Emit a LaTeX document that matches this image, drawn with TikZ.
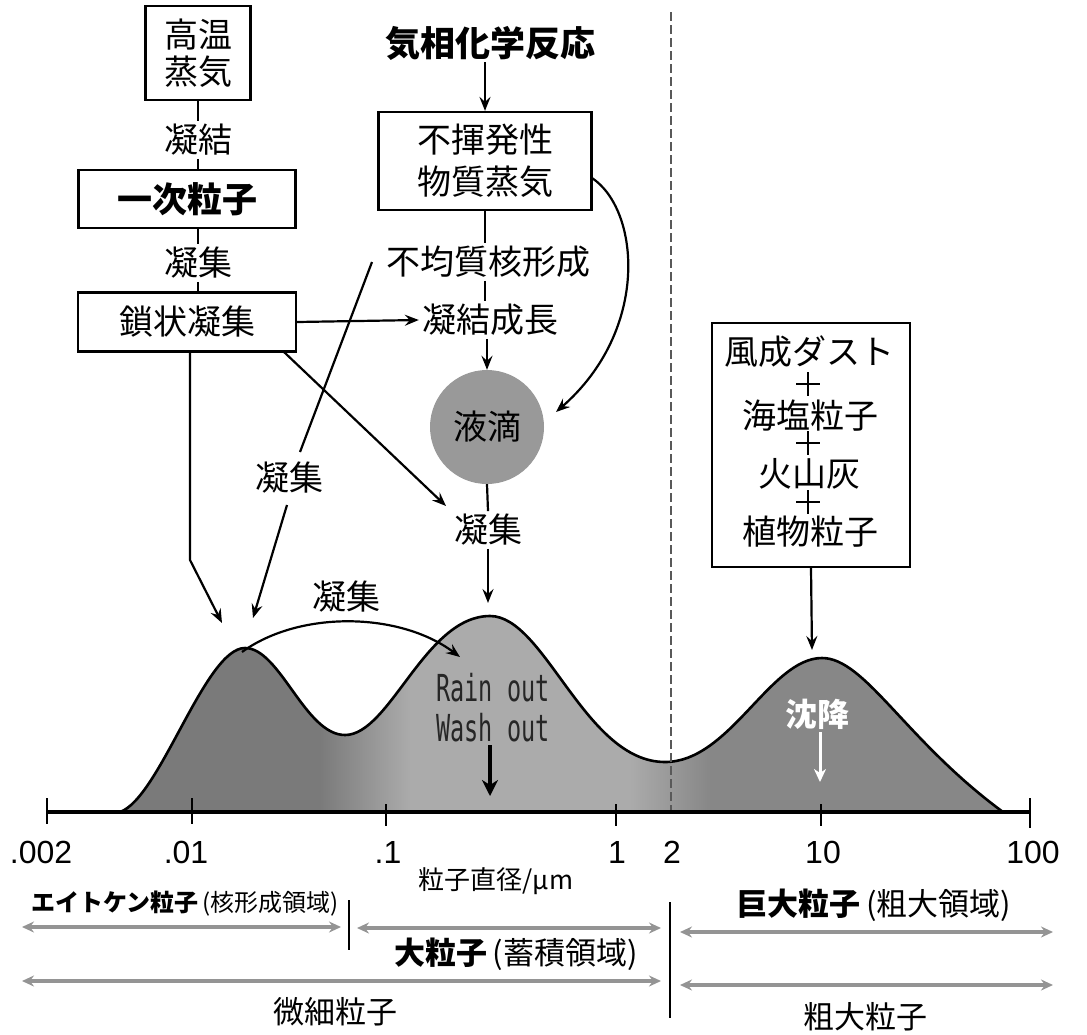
\documentclass[tikz,border=0pt]{standalone}
\usepackage{fontspec}
\setmainfont{Noto Sans CJK JP}
\newfontfamily\monof{DejaVu Sans Mono}
\newfontfamily\numf{Liberation Sans}
\usetikzlibrary{arrows.meta}
\tikzset{
  jp/.style={font=\fontsize{34}{38}\selectfont, inner sep=3pt},
  jpb/.style={font=\bfseries\fontsize{35}{38}\selectfont, inner sep=3pt},
  boxn/.style={draw, line width=2.2pt, align=center, inner sep=0pt},
  conn/.style={draw, line width=2.2pt},
  arr/.style={draw, line width=2.2pt, -{Stealth[length=14pt,width=11pt,inset=5pt]}},
  garr/.style={draw=black!42, line width=3.6pt, {Stealth[length=12pt,width=11pt,inset=4pt]}-{Stealth[length=12pt,width=11pt,inset=4pt]}},
  tick/.style={line width=2.6pt},
  num/.style={font=\numf\fontsize{32}{34}\selectfont, inner sep=0pt},
  lab/.style={font=\fontsize{29}{32}\selectfont, inner sep=0pt},
  plusmark/.style={line width=1.8pt},
  wtxt/.style={font=\fontsize{34}{38}\selectfont, inner sep=0pt},
}
\def\distcurve{(120,812) .. controls (160,798) and (205,648) .. (245,648)
  .. controls (280,648) and (305,735) .. (345,735)
  .. controls (390,735) and (425,616) .. (490,616)
  .. controls (545,616) and (585,762) .. (665,762)
  .. controls (730,762) and (770,658) .. (822,658)
  .. controls (865,658) and (905,740) .. (1003,812)}
\begin{document}
\begin{tikzpicture}[x=1pt,y=-1pt]
\useasboundingbox (0,0) rectangle (1087,1034);

% ---------- distribution curve ----------
\begin{scope}
  \clip \distcurve -- cycle;
  \fill[black!52] (100,590) rectangle (320,815);
  \shade[left color=black!52, right color=black!33] (320,590) rectangle (410,815);
  \fill[black!33] (410,590) rectangle (630,815);
  \shade[left color=black!33, right color=black!47] (630,590) rectangle (710,815);
  \fill[black!47] (710,590) rectangle (1010,815);
\end{scope}
\draw[line width=2.6pt] \distcurve;

% dashed divider
\draw[black!65, line width=1.4pt, dash pattern=on 9pt off 4pt] (671,12) -- (671,812);

% ---------- axis ----------
\draw[line width=3.2pt] (47,812) -- (1030,812);
\draw[tick] (47,798) -- (47,824);
\draw[tick] (192,798) -- (192,824);
\draw[tick] (386,804) -- (386,826);
\draw[tick] (616,804) -- (616,826);
\draw[tick] (821,804) -- (821,826);
\draw[tick] (1030,798) -- (1030,828);
\node[num] (n1) at (41,852) {.002};
\node[num] (n2) at (186,852) {.01};
\node[num] (n3) at (388,852) {.1};
\node[num] (n4) at (617,852) {1};
\node[num] (n5) at (672,852) {2};
\node[num] (n6) at (823,852) {10};
\node[num] (n7) at (1033,852) {100};
\node[font=\fontsize{26}{28}\selectfont, inner sep=0pt] (axl) at (496,881) {粒子直径/μm};

% ---------- left column ----------
\node[boxn, jp, minimum width=105pt, minimum height=94pt, font=\fontsize{34}{37}\selectfont] (hv) at (198,53) {高温\\蒸気};
\node[jp] (l1) at (198,140) {凝結};
\node[boxn, jpb, minimum width=217pt, minimum height=58pt] (p1) at (187,199) {一次粒子};
\node[jp] (l2) at (198,263) {凝集};
\node[boxn, jp, minimum width=218pt, minimum height=59pt] (ch) at (187,322) {鎖状凝集};
\draw[conn] (hv.south) -- (l1.north);
\draw[conn] (l1.south) -- (l1.south |- p1.north);
\draw[conn] (p1.south -| l2.north) -- (l2.north);
\draw[conn] (l2.south) -- (l2.south |- ch.north);

% ---------- middle column ----------
\node[jpb] (gas) at (490,43) {気相化学反応};
\node[boxn, jp, minimum width=213pt, minimum height=98pt, font=\fontsize{34}{42}\selectfont] (nv) at (485,161) {不揮発性\\物質蒸気};
\node[jp] (het) at (488,262) {不均質核形成};
\node[jp] (cg) at (490,320) {凝結成長};
\node[circle, fill=black!40, minimum size=114pt, inner sep=0pt, jp] (drop) at (487,427) {液滴};
\node[jp] (ag) at (488,530) {凝集};
\coordinate (gs) at (485,62);
\draw[arr] (gs) -- (nv.north);
\draw[conn] (nv.south) -- (nv.south |- het.north);
\draw[conn] (het.south -| nv.south) -- (nv.south |- cg.north);
\draw[arr] (cg.south -| drop.north) -- (drop.north);
\draw[conn] (drop.south) -- (ag.north);
\coordinate (pk2) at (488,603);
\draw[arr] (ag.south) -- (pk2);

% curved arrow from vapour box to droplet
\coordinate (nvs) at (592,178);
\coordinate (dre) at (556,412);
\draw[arr] (nvs) .. controls (640,210) and (650,330) .. (dre);

% chain-aggregate connections
\draw[arr] (ch.east) -- (cg.west);
\coordinate (chs) at (190,352);
\coordinate (k1) at (190,560);
\coordinate (t1) at (222,623);
\draw[arr] (chs) -- (k1) -- (t1);
\coordinate (chse) at (284,352);
\coordinate (t3) at (446,506);
\draw[arr] (chse) -- (t3);

% heterogeneous nucleation -> Aitken peak
\node[jp] (l3) at (289,478) {凝集};
\coordinate (hw) at (372,262);
\coordinate (hm) at (300,452);
\coordinate (hn) at (287,505);
\coordinate (t4) at (253,618);
\draw[conn] (hw) -- (hm);
\draw[arr] (hn) -- (t4);

% coagulation between peaks
\node[jp] (l4) at (346,597) {凝集};
\coordinate (a1) at (242,652);
\coordinate (a2) at (460,657);
\draw[arr] (a1) .. controls (300,610) and (400,612) .. (a2);

% ---------- right box ----------
\node[boxn, minimum width=198pt, minimum height=244pt] (wb) at (811,445) {};
\node[wtxt] (w1) at (809,352) {風成ダスト};
\node[wtxt] (w2) at (810,416) {海塩粒子};
\node[wtxt] (w3) at (809,474) {火山灰};
\node[wtxt] (w4) at (810,532) {植物粒子};
\draw[plusmark] (796,384) -- (820,384) (808,372) -- (808,396);
\draw[plusmark] (796,443) -- (820,443) (808,431) -- (808,455);
\draw[plusmark] (796,502) -- (820,502) (808,490) -- (808,514);
\coordinate (pk3) at (812,650);
\draw[arr] (wb.south) -- (pk3);

% ---------- texts inside curve ----------
\node[font=\monof\fontsize{24}{26}\selectfont, text=black!85, inner sep=0pt] (ro) at (493,688) {\scalebox{0.98}[1.55]{Rain out}};
\node[font=\monof\fontsize{24}{26}\selectfont, text=black!85, inner sep=0pt] (wo) at (493,728) {\scalebox{0.98}[1.55]{Wash out}};
\coordinate (wot) at (490,745);
\coordinate (wob) at (490,796);
\draw[line width=3.5pt, -{Stealth[length=16pt,width=16pt,inset=5pt]}] (wot) -- (wob);
\node[text=white, font=\bfseries\fontsize{32}{34}\selectfont, inner sep=0pt] (sk) at (817,714) {沈降};
\coordinate (skt) at (820,732);
\coordinate (skb) at (820,782);
\draw[white, line width=3pt, -{Stealth[length=13pt,width=12pt,inset=4pt]}] (skt) -- (skb);

% ---------- size classes ----------
\node[lab, anchor=west, font=\fontsize{24}{28}\selectfont] (ait) at (31,904) {\textbf{エイトケン粒子}\,(核形成領域)};
\coordinate (g1a) at (22,927); \coordinate (g1b) at (341,927);
\draw[garr] (g1a) -- (g1b);
\draw[line width=2.8pt] (349,900) -- (349,950);
\coordinate (g2a) at (357,928); \coordinate (g2b) at (661,928);
\draw[garr] (g2a) -- (g2b);
\node[lab, font=\fontsize{31}{34}\selectfont] (acc) at (516,954) {\textbf{大粒子}\,(蓄積領域)};
\coordinate (g3a) at (22,981); \coordinate (g3b) at (661,981);
\draw[garr] (g3a) -- (g3b);
\node[font=\fontsize{31}{34}\selectfont, inner sep=0pt] (fine) at (335,1012) {微細粒子};

\draw[line width=2.8pt] (670,902) -- (670,1018);
\node[lab, font=\fontsize{31}{34}\selectfont] (gnt) at (874,905) {\textbf{巨大粒子}\,(粗大領域)};
\coordinate (g4a) at (680,932); \coordinate (g4b) at (1053,932);
\draw[garr] (g4a) -- (g4b);
\coordinate (g5a) at (680,985); \coordinate (g5b) at (1053,985);
\draw[garr] (g5a) -- (g5b);
\node[font=\fontsize{31}{34}\selectfont, inner sep=0pt] (crs) at (865,1017) {粗大粒子};
\end{tikzpicture}
\end{document}
